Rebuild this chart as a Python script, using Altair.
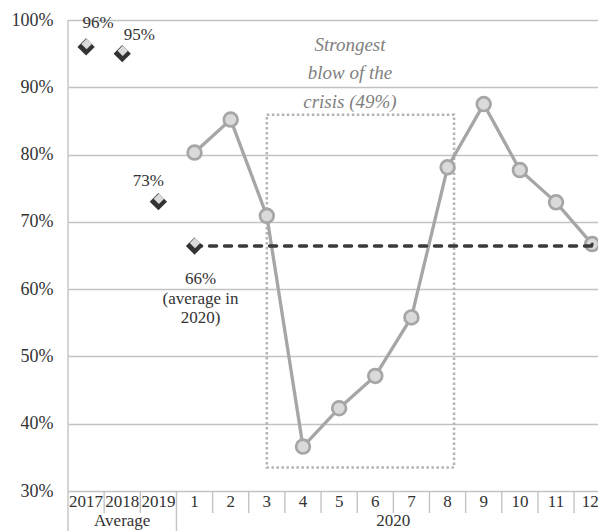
import altair as alt
import pandas as pd

# ---- data ----
years = ["2017", "2018", "2019"]
year_values = [0.96, 0.95, 0.73]
months = ["1", "2", "3", "4", "5", "6", "7", "8", "9", "10", "11", "12"]
month_values = [0.803, 0.852, 0.709, 0.366, 0.423, 0.471, 0.558, 0.781, 0.875, 0.777, 0.729, 0.667]
avg_2020 = 0.664
groups = ["Average", "2020"]
y_ticks = [0.3, 0.4, 0.5, 0.6, 0.7, 0.8, 0.9, 1.0]
box_idx = [5.0, 10.18]          # category-index span of the dotted box (month 3 .. just past month 8)
box_vals = [0.335, 0.859]
annotation = ["Strongest", "blow of the", "crisis (49%)"]
avg_labels = ["66%", "(average in", "2020)"]

FONT = "Liberation Serif"
TXT = "#333333"
GRID = "#c3c3c3"
LINE = "#a6a6a6"
FILL = "#dadada"
DARK = "#333333"

categories = years + months
cat_df = pd.DataFrame({"idx": list(range(len(categories))), "label": categories})
year_df = pd.DataFrame({"idx": list(range(len(years))), "value": year_values,
                        "label": [f"{round(v*100)}%" for v in year_values]})
month_df = pd.DataFrame({"idx": [len(years) + i for i in range(len(months))], "value": month_values})
avg_df = pd.DataFrame({"idx": [len(years), len(categories) - 1], "value": [avg_2020, avg_2020]})
avg_pt = avg_df.iloc[[0]]
group_df = pd.DataFrame({"label": groups,
                         "idx": [(len(years) - 1) / 2, len(years) + (len(months) - 1) / 2]})
box_df = pd.DataFrame({"x": [box_idx[0]], "x2": [box_idx[1]], "y": [box_vals[0]], "y2": [box_vals[1]]})

W, H = 530, 471
xs = alt.Scale(domain=[-0.5, -0.5 + W / 36.15], nice=False, zero=False)
ys = alt.Scale(domain=[0.3, 1.0], nice=False, zero=False)
X = alt.X("idx:Q", scale=xs, axis=None)
yaxis = alt.Axis(values=y_ticks, format=".0%", grid=True, gridColor=GRID, gridWidth=1.4,
                 domain=False, ticks=False, labelFont=FONT, labelFontSize=18, labelColor=TXT,
                 labelPadding=15, title=None)
Y = alt.Y("value:Q", scale=ys, axis=yaxis)

# left axis line and group separator (long rules)
long_rules = alt.Chart(pd.DataFrame({"idx": [-0.5, len(years) - 0.5],
                                     "top": [0, H]})).mark_rule(color=GRID, strokeWidth=1.4).encode(
    x=X, y=alt.Y("top:Q", scale=None), y2=alt.value(H + 45))

sep_df = pd.DataFrame({"idx": [i + 0.5 for i in range(len(categories) - 1) if i != len(years) - 1]})
short_rules = alt.Chart(sep_df).mark_rule(color=GRID, strokeWidth=1.4).encode(
    x=X, y=alt.value(H), y2=alt.value(H + 22))

cat_text = alt.Chart(cat_df.iloc[:-1]).mark_text(font=FONT, fontSize=17, color=TXT, baseline="middle").encode(
    x=X, y=alt.value(H + 11), text="label:N")
cat_last = alt.Chart(cat_df.iloc[[-1]]).mark_text(font=FONT, fontSize=17, color=TXT, baseline="middle",
                                                  dx=-2).encode(x=X, y=alt.value(H + 11), text="label:N")
group_text = alt.Chart(group_df).mark_text(font=FONT, fontSize=17, color=TXT, baseline="alphabetic").encode(
    x=X, y=alt.value(H + 35), text="label:N")

box = alt.Chart(box_df).mark_rect(fillOpacity=0, stroke="#b3b3b3", strokeWidth=2.5,
                                  strokeDash=[2.5, 2.5]).encode(
    x=alt.X("x:Q", scale=xs, axis=None), x2="x2:Q",
    y=alt.Y("y:Q", scale=ys, axis=yaxis), y2="y2:Q")

mline = alt.Chart(month_df).mark_line(color=LINE, strokeWidth=3.3).encode(x=X, y=Y)
mpts = alt.Chart(month_df).mark_point(shape="circle", filled=True, fill=FILL, stroke=LINE,
                                      strokeWidth=2.7, size=190, opacity=1).encode(x=X, y=Y)

avg_line = alt.Chart(avg_df).mark_line(color="#3a3a3a", strokeWidth=3.5, strokeDash=[7, 8],
                                       strokeCap="round").encode(x=X, y=Y)
last_dot = alt.Chart(month_df.iloc[[-1]]).mark_point(shape="circle", filled=True, color="#3a3a3a",
                                                     size=10, opacity=1).encode(x=X, y=Y)

diam_df = pd.concat([year_df[["idx", "value"]], avg_pt], ignore_index=True)
diam_dark = alt.Chart(diam_df).mark_point(shape="diamond", filled=True, color=DARK, size=300,
                                          opacity=1).encode(x=X, y=Y)
diam_light = alt.Chart(diam_df).mark_point(shape="diamond", filled=True, color=FILL, size=110,
                                           opacity=1).encode(x=X, y=Y, yOffset=alt.value(-3),
                                                             xOffset=alt.value(0.5))

lab_style = dict(font=FONT, fontSize=17, color=TXT, baseline="middle")
lab96 = alt.Chart(year_df.iloc[[0]]).mark_text(dx=12, dy=-24, **lab_style).encode(x=X, y=Y, text="label:N")
lab95 = alt.Chart(year_df.iloc[[1]]).mark_text(dx=17, dy=-19, **lab_style).encode(x=X, y=Y, text="label:N")
lab73 = alt.Chart(year_df.iloc[[2]]).mark_text(dx=-10, dy=-21, **lab_style).encode(x=X, y=Y, text="label:N")
lab66 = alt.Chart(avg_pt).mark_text(dx=6, dy=25, lineHeight=19.5, baseline="top", font=FONT,
                                    fontSize=17, color=TXT, text=avg_labels).encode(x=X, y=Y)

note_df = pd.DataFrame({"idx": [7.3], "value": [0.963]})
note = alt.Chart(note_df).mark_text(font=FONT, fontSize=19, fontStyle="italic", color="#7f7f7f",
                                    lineHeight=28.5, baseline="middle", text=annotation).encode(x=X, y=Y)

chart = alt.layer(
    long_rules, short_rules, cat_text, cat_last, group_text, box, mline, mpts, avg_line, last_dot,
    diam_dark, diam_light, lab96, lab95, lab73, lab66, note
).properties(
    width=W, height=H,
    autosize=alt.AutoSizeParams(type="none"),
    padding={"left": 60, "top": 12, "right": 0, "bottom": 40},
).configure_view(stroke=None)

chart.save("out.html", embed_options={"renderer": "svg", "actions": False})
